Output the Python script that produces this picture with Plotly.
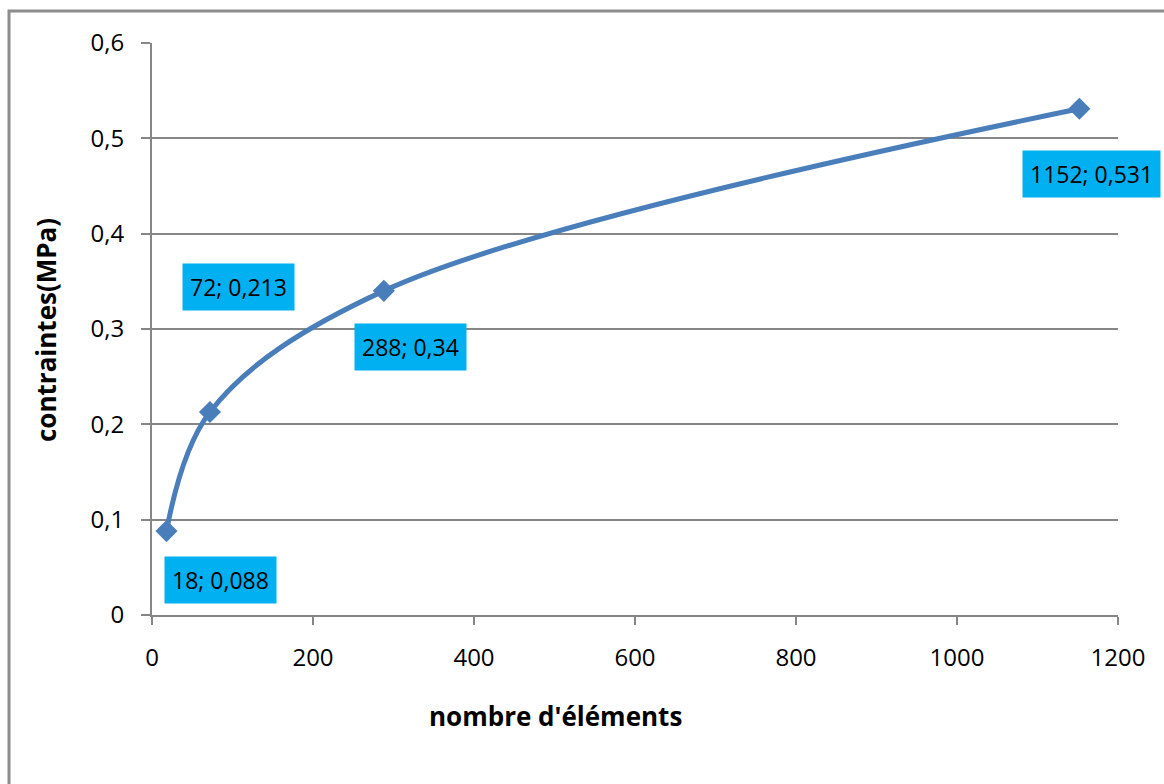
import plotly.graph_objects as go

# Convergence du maillage : contrainte en fonction du nombre d'éléments
elements = [18, 72, 288, 1152]
contraintes = [0.088, 0.213, 0.34, 0.531]

# Décalage (px) de chaque étiquette de données par rapport à son point
label_dx = [54, 29, 27, 12]
label_dy = [-49, 125, -56, -65]

x_ticks = [0, 200, 400, 600, 800, 1000, 1200]
y_ticks = [0, 0.1, 0.2, 0.3, 0.4, 0.5, 0.6]

FONT = "Open Sans"
GRID = "#868686"
LINE = "#4A7EBB"
LABEL_BG = "#00B0F0"

W, H = 1164, 784
ML, MR, MT, MB = 152, 46, 43, 169
pw, ph = W - ML - MR, H - MT - MB


def fr(v):
    s = f"{v:g}"
    return s.replace(".", ",")


fig = go.Figure()
fig.add_trace(go.Scatter(
    x=elements, y=contraintes, mode="lines+markers",
    line=dict(color=LINE, width=5, shape="spline", smoothing=1.0),
    marker=dict(symbol="diamond", size=17, color=LINE),
    showlegend=False, hoverinfo="skip",
))

annotations = []
for xv, yv, dx, dy in zip(elements, contraintes, label_dx, label_dy):
    annotations.append(dict(
        x=xv, y=yv, xref="x", yref="y", showarrow=False,
        text=f"{xv}; {fr(yv)}", xshift=dx, yshift=dy,
        xanchor="center", yanchor="middle",
        bgcolor=LABEL_BG, borderpad=7,
        font=dict(family=FONT, size=23, color="#000000"),
    ))

# Titres des axes
annotations.append(dict(
    x=(555 - ML) / pw, y=(H - MB - 716) / ph, xref="paper", yref="paper",
    xanchor="center", yanchor="middle",
    text="<b>nombre d'éléments</b>", showarrow=False,
    font=dict(family=FONT, size=26, color="#000000"),
))
annotations.append(dict(
    x=(46 - ML) / pw, y=(H - MB - 330) / ph, xref="paper", yref="paper",
    xanchor="center", yanchor="middle",
    text="<b>contraintes(MPa)</b>", showarrow=False, textangle=-90,
    font=dict(family=FONT, size=26, color="#000000"),
))

fig.update_layout(
    width=W, height=H,
    margin=dict(l=ML, r=MR, t=MT, b=MB),
    paper_bgcolor="white", plot_bgcolor="white",
    separators=", ",
    font=dict(family=FONT, size=24, color="#000000"),
    annotations=annotations,
    shapes=[dict(
        type="rect", xref="paper", yref="paper",
        x0=(9 - ML) / pw, x1=(W + 20 - ML) / pw,
        y0=(H - MB - (H + 20)) / ph, y1=(H - MB - 11) / ph,
        line=dict(color="#8C8C8C", width=3), layer="below",
    )],
    xaxis=dict(
        range=[0, 1200], tickvals=x_ticks, showgrid=False, zeroline=False,
        showline=True, linecolor=GRID, linewidth=2,
        ticks="outside", ticklen=8, tickcolor=GRID, tickwidth=2,
        tickfont=dict(family=FONT, size=24), ticklabelstandoff=12,
    ),
    yaxis=dict(
        range=[0, 0.6], tickvals=y_ticks,
        showgrid=True, gridcolor=GRID, gridwidth=2, zeroline=False,
        showline=True, linecolor=GRID, linewidth=2,
        ticks="outside", ticklen=9, tickcolor=GRID, tickwidth=2,
        tickfont=dict(family=FONT, size=24), ticklabelstandoff=12,
        ticktext=[fr(v) for v in y_ticks],
    ),
)

fig.write_html("out.html")
